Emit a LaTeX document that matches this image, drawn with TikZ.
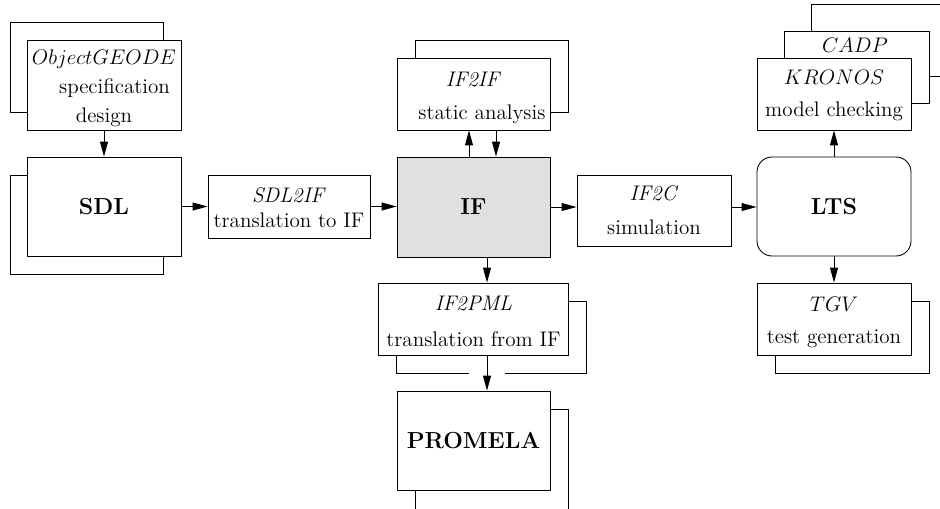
\documentclass[tikz,border=0pt]{standalone}
\usetikzlibrary{arrows.meta,calc}
\definecolor{ifgray}{RGB}{224,224,224}
\tikzset{
  blk/.style={draw, fill=white, align=center, inner sep=0pt,
    font=\fontsize{12}{14.5}\selectfont},
  bigblk/.style={blk, font=\fontsize{13.2}{15}\selectfont\bfseries},
}
\begin{document}
\begin{tikzpicture}[x=0.02cm, y=-0.02cm, line width=0.5pt,
  >={Triangle[length=8.5pt,width=4.5pt]}]
\useasboundingbox (0,0) rectangle (940,508);
\clip (0,0) rectangle (940,508);

% back boxes
\draw (27,112)--(10,112)--(10,22)--(163,22)--(163,40);
\draw (27,175)--(10,175)--(10,274)--(163,274)--(163,256);
\draw (415,58)--(415,40)--(568,40)--(568,112)--(550,112);
\draw (811,31)--(811,4)--(960,4);
\draw (929,76)--(960,76);
\draw (911,301)--(929,301)--(929,373)--(775,373)--(775,355);
\draw (568,301)--(586,301)--(586,373)--(505,373);
\draw (469,373)--(396,373)--(396,355);
\draw (550,409)--(568,409)--(568,520);
\draw (415,490)--(415,520);

% boxes
\node[blk, minimum width=3.08cm, minimum height=1.8cm] (geode) at (104,85)
  {\rule{0pt}{12pt}$ObjectGEODE$\\[2pt] \hspace*{1em}specification\\[2pt] design};
\node[bigblk, minimum width=3.08cm, minimum height=1.98cm] (sdl) at (104,206.5) {SDL};
\node[blk, minimum width=3.24cm, minimum height=1.26cm] (sdltoif) at (289,206.5)
  {\rule{0pt}{10pt}\textit{SDL2IF}\\ translation to IF};
\node[bigblk, fill=ifgray, minimum width=3.06cm, minimum height=2cm] (if) at (473.5,207) {IF};
\node[blk, minimum width=3.06cm, minimum height=1.44cm] (iftoif) at (473.5,94)
  {\rule{0pt}{13pt}\textit{IF2IF}\\[4.3pt] \hspace*{0.8em}static analysis};
\node[blk, minimum width=3.08cm, minimum height=1.42cm] (iftoc) at (654,210.5)
  {\textit{IF2C}\\[5pt] simulation};
\node[bigblk, rounded corners=0.3cm, minimum width=3.08cm, minimum height=1.98cm] (lts) at (834,206.5) {LTS};
\node[blk, minimum width=2.9cm, minimum height=1.44cm] (cadp) at (856.5,67) {};
\node[blk, draw=none, fill=none] (cadptxt) at (855,45) {$CADP$};
\node[blk, minimum width=3.08cm, minimum height=1.44cm] (kronos) at (834,94)
  {\rule{0pt}{10pt}$KRONOS$\\[4pt] model checking};
\node[blk, minimum width=3.08cm, minimum height=1.44cm] (tgv) at (834,319)
  {\rule{0pt}{12pt}$TGV$\\[4pt] test generation};
\node[blk, minimum width=3.8cm, minimum height=1.44cm] (iftopml) at (473.5,319)
  {\rule{0pt}{11pt}\textit{IF2PML}\\[6pt] translation from IF};
\node[bigblk, minimum width=3.06cm, minimum height=1.98cm] (promela) at (473.5,440.5) {PROMELA};

% arrows
\draw[->] (geode.south) -- (sdl.north);
\draw[->] (sdl.east) -- (sdl.east -| sdltoif.west);
\draw[->] (sdltoif.east) -- (sdltoif.east -| if.west);
\draw[->] (if.east) -- (if.east -| iftoc.west);
\draw[->] (iftoc.east |- if.east) -- (if.east -| lts.west);
\draw[->] ($(if.north)+(-4.5,0)$) -- ($(iftoif.south)+(-4.5,0)$);
\draw[->] ($(iftoif.south)+(22.5,0)$) -- ($(if.north)+(22.5,0)$);
\draw[->] ($(if.south)+(13.5,0)$) -- ($(iftopml.north)+(13.5,0)$);
\draw[->] ($(iftopml.south)+(13.5,0)$) -- ($(promela.north)+(13.5,0)$);
\draw[->] (lts.north) -- (kronos.south);
\draw[->] (lts.south) -- (tgv.north);

\end{tikzpicture}
\end{document}
